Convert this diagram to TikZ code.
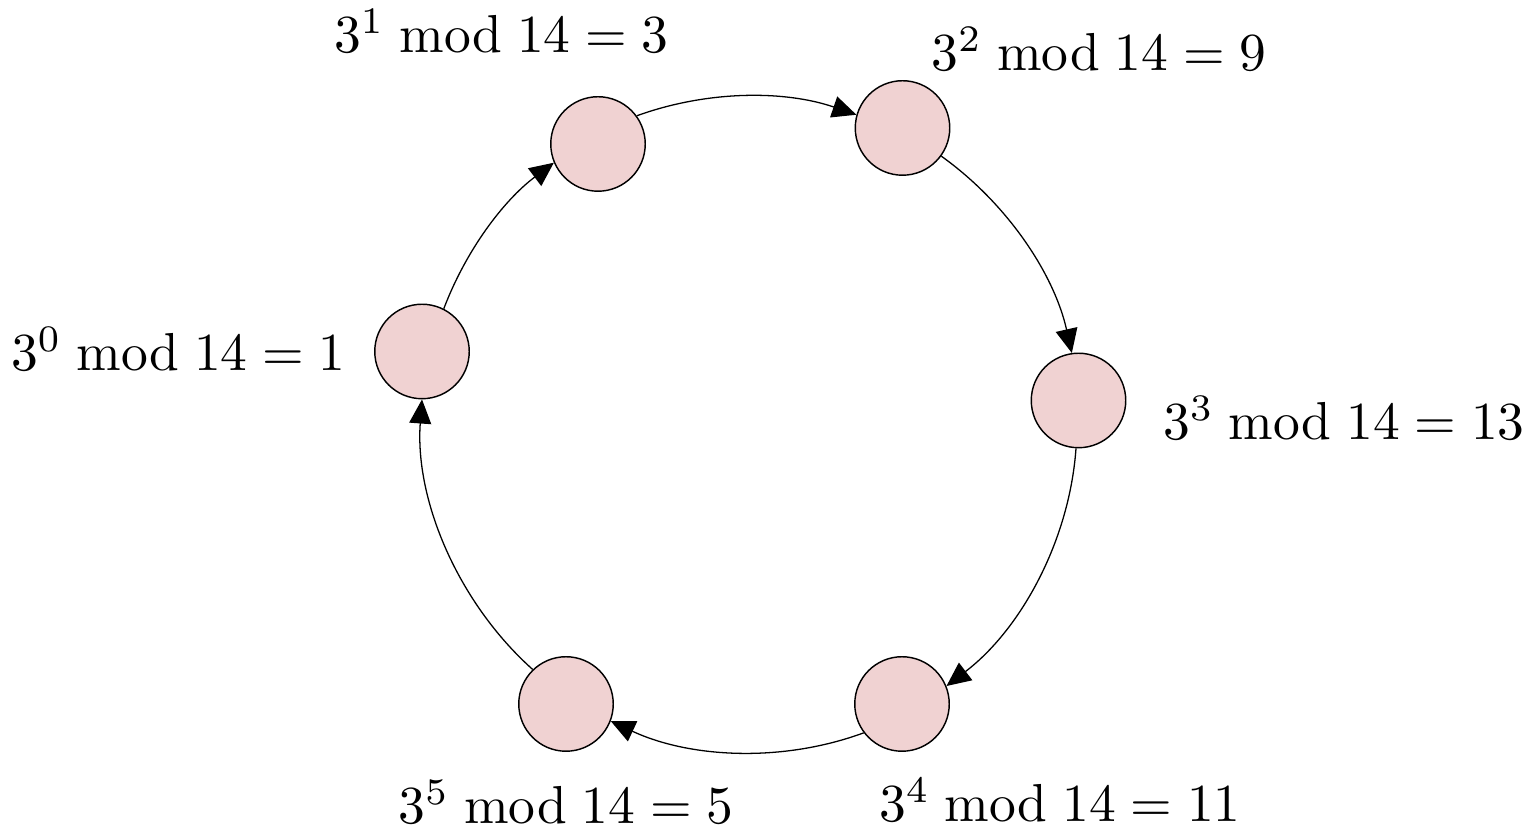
\documentclass[tikz,border=0pt]{standalone}
\usetikzlibrary{arrows.meta}
\definecolor{nodefill}{RGB}{240,210,210}
\newcommand{\md}[2]{$3^{#1}\bmod 14 = #2$}
\begin{document}
\begin{tikzpicture}[x=0.18692pt,y=0.18692pt,
  state/.style={circle,draw=black,line width=0.27pt,fill=nodefill,minimum size=17.66pt,inner sep=0pt},
  lbl/.style={anchor=base,inner sep=0pt,outer sep=0pt},
  conn/.style={line width=0.24pt,-{Triangle[length=4.5pt,width=4.1pt]},looseness=0.88}]
\useasboundingbox (0,0) rectangle (1540,830);
\node[state] (n0) at (422,478.5) {};
\node[state] (n1) at (598,686) {};
\node[state] (n2) at (902.5,702) {};
\node[state] (n3) at (1078.5,429.5) {};
\node[state] (n4) at (902,126) {};
\node[state] (n5) at (566,126) {};
\node[lbl] (l0) at (178.5,459) {\md{0}{1}};
\node[lbl] (l1) at (501.5,777) {\md{1}{3}};
\node[lbl] (l2) at (1099,759) {\md{2}{9}};
\node[lbl] (l3) at (1344,390) {\md{3}{13}};
\node[lbl] (l4) at (1060,8) {\md{4}{11}};
\node[lbl] (l5) at (566,6) {\md{5}{5}};
\draw[conn] (n0.63.7) to[out=69.2,in=216.9] (n1.203.4);
\draw[conn] (n1.36) to[out=19.9,in=161.1] (n2.164);
\draw[conn] (n2.-36.8) to[out=-35.6,in=102.7] (n3.98.1);
\draw[conn] (n3.267.8) to[out=-94.1,in=37.3] (n4.22.3);
\draw[conn] (n4.217.1) to[out=200.2,in=-25] (n5.-21.2);
\draw[conn] (n5.134.7) to[out=138.2,in=265.8] (n0.270);
\end{tikzpicture}
\end{document}
